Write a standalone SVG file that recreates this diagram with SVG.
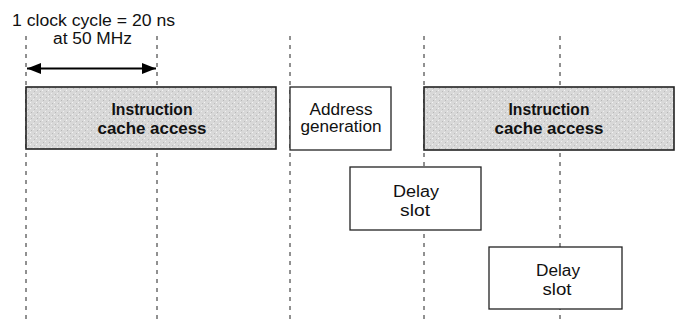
<svg xmlns="http://www.w3.org/2000/svg" width="686" height="333" viewBox="0 0 686 333">
  <style>
    .grid { stroke: #222; stroke-width: 1; stroke-dasharray: 4 5; fill: none; }
    .box { stroke: #222; stroke-width: 1.3; fill: #ffffff; }
    .shaded { stroke: #222; stroke-width: 1.6; fill: url(#stipple); }
    .lbl { font-family: "Liberation Sans", Arial, sans-serif; font-size: 16px; fill: #111; text-anchor: middle; }
    .dark { font-weight: bold; }
    .title { font-family: "Liberation Sans", Arial, sans-serif; font-size: 16px; fill: #111; }
  </style>
  <defs>
    <pattern id="stipple" width="6" height="6" patternUnits="userSpaceOnUse">
      <rect width="6" height="6" fill="#d8d8d8"/>
      <rect x="0" y="0" width="1" height="1" fill="#f4f4f4"/>
      <rect x="3" y="3" width="1" height="1" fill="#efefef"/>
      <rect x="1" y="4" width="1" height="1" fill="#b8b8b8"/>
      <rect x="4" y="1" width="1" height="1" fill="#bcbcbc"/>
    </pattern>
    <marker id="head" viewBox="0 0 14 11" refX="14" refY="5.5" markerWidth="14" markerHeight="11" markerUnits="userSpaceOnUse" orient="auto-start-reverse">
      <path d="M0,0 L14,5.5 L0,11 Z" fill="#000"/>
    </marker>
  </defs>

  <!-- clock-cycle boundaries -->
  <g id="gridlines">
    <line class="grid" x1="26" y1="36" x2="26" y2="320"/>
    <line class="grid" x1="157" y1="36" x2="157" y2="320"/>
    <line class="grid" x1="290" y1="36" x2="290" y2="320"/>
    <line class="grid" x1="424" y1="36" x2="424" y2="320"/>
    <line class="grid" x1="560" y1="36" x2="560" y2="320"/>
  </g>

  <!-- cycle-length annotation -->
  <g id="cycle-label">
    <text class="title" x="12" y="25.5" textLength="163" lengthAdjust="spacingAndGlyphs">1 clock cycle = 20 ns</text>
    <text class="lbl" x="92.5" y="44" textLength="79" lengthAdjust="spacingAndGlyphs">at 50 MHz</text>
  </g>

  <g id="connectors">
    <line x1="27" y1="68.5" x2="156" y2="68.5" stroke="#000" stroke-width="2" marker-start="url(#head)" marker-end="url(#head)"/>
  </g>

  <g id="icache1">
    <rect class="shaded" x="26" y="87" width="250" height="62"/>
    <text class="lbl dark" x="152" y="115" textLength="81" lengthAdjust="spacingAndGlyphs">Instruction</text>
    <text class="lbl dark" x="152" y="134" textLength="109" lengthAdjust="spacingAndGlyphs">cache access</text>
  </g>

  <g id="addrgen">
    <rect class="box" x="290" y="87" width="101" height="63"/>
    <text class="lbl" x="341" y="115" textLength="63" lengthAdjust="spacingAndGlyphs">Address</text>
    <text class="lbl" x="341" y="132" textLength="81" lengthAdjust="spacingAndGlyphs">generation</text>
  </g>

  <g id="icache2">
    <rect class="shaded" x="424" y="87" width="250" height="63"/>
    <text class="lbl dark" x="549" y="115" textLength="81" lengthAdjust="spacingAndGlyphs">Instruction</text>
    <text class="lbl dark" x="549" y="134" textLength="109" lengthAdjust="spacingAndGlyphs">cache access</text>
  </g>

  <g id="delay1">
    <rect class="box" x="350" y="167" width="131" height="63"/>
    <text class="lbl" x="416" y="197" textLength="46" lengthAdjust="spacingAndGlyphs">Delay</text>
    <text class="lbl" x="415" y="216" textLength="30" lengthAdjust="spacingAndGlyphs">slot</text>
  </g>

  <g id="delay2">
    <rect class="box" x="489" y="247" width="133" height="62"/>
    <text class="lbl" x="558" y="276" textLength="44" lengthAdjust="spacingAndGlyphs">Delay</text>
    <text class="lbl" x="557" y="295" textLength="29" lengthAdjust="spacingAndGlyphs">slot</text>
  </g>
</svg>
